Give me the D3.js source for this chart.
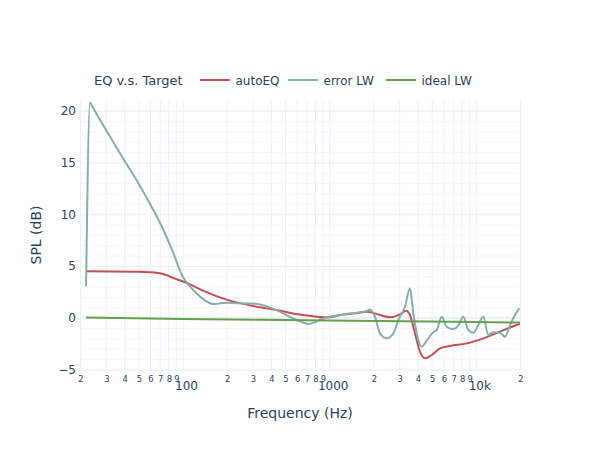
<!DOCTYPE html>
<html>
<head>
<meta charset="utf-8">
<script src="https://cdn.jsdelivr.net/npm/d3@7"></script>
<style>
  body { margin: 0; background: #fff; }
</style>
</head>
<body>
<div id="chart"></div>
<script>
// values (frequency in Hz, level in dB)
var autoFreq = [22, 51, 60, 70, 78, 86, 107, 139, 200, 304, 439, 632, 822, 1000, 1186, 1500, 1802, 2000, 2220, 2598, 3040, 3340, 3556, 3846, 4160, 4500, 5000, 5696, 6664, 8664, 11240, 14612, 18972, 20000];
var autoDb   = [4.5, 4.45, 4.4, 4.3, 4.1, 3.85, 3.35, 2.6, 1.75, 1.13, 0.74, 0.3, 0.1, 0.05, 0.26, 0.42, 0.58, 0.45, 0.26, 0.04, 0.33, 0.68, 0.26, -1.51, -3.28, -3.92, -3.6, -2.96, -2.73, -2.48, -1.99, -1.35, -0.71, -0.6];

var errorFreq = [22, 23.4, 24.1, 32, 40.5, 50, 60, 74, 86, 100, 118, 132, 162, 180, 200, 234, 300, 439, 570, 632, 720, 800, 880, 1060, 1386, 1800, 1898, 2052, 2220, 2466, 2736, 2960, 3286, 3556, 3746, 4052, 4272, 4624, 5132, 5408, 5852, 6328, 7020, 7592, 8210, 8880, 9610, 10392, 11240, 12160, 13154, 14612, 15804, 17092, 18486, 19780];
var errorDb   = [3.05, 20.8, 20.48, 17.5, 15.1, 13.0, 11.0, 8.5, 6.35, 4.0, 2.7, 2.03, 1.32, 1.39, 1.45, 1.39, 1.38, 0.74, -0.1, -0.35, -0.6, -0.45, -0.15, 0.15, 0.4, 0.65, 0.8, 0.1, -1.51, -1.99, -1.51, -0.22, 1.06, 2.84, 0.42, -2.15, -2.8, -2.2, -1.4, -1.19, 0.1, -0.87, -1.1, -0.75, 0.1, -1.19, -1.45, -0.71, 0.1, -1.67, -1.4, -1.45, -1.84, -0.71, 0.26, 0.91];

var idealFreq = [22, 100, 1000, 10000, 20000];
var idealDb   = [0.02, -0.12, -0.27, -0.42, -0.47];

var seriesNames = ["autoEQ", "error LW", "ideal LW"];
var seriesColors = ["#c44e52", "#86aead", "#65a04a"];
var legendTitle = "EQ v.s. Target";

var xTicks = [20, 30, 40, 50, 60, 70, 80, 90, 100, 200, 300, 400, 500, 600, 700, 800, 900,
              1000, 2000, 3000, 4000, 5000, 6000, 7000, 8000, 9000, 10000, 20000];
var xDecades = [100, 1000, 10000];
var xDecadeLabels = ["100", "1000", "10k"];
var yTicks = [-5, 0, 5, 10, 15, 20];

var width = 600,
    height = 450,
    margin = {top: 100, right: 80, bottom: 80, left: 80};
var font = '"DejaVu Sans", Verdana, sans-serif';
var textColor = "#2a3f5f";

var svg = d3.select("#chart").append("svg")
    .attr("width", width)
    .attr("height", height)
    .style("font-family", font);

var x = d3.scaleLog()
    .domain([20, 20000])
    .range([margin.left, width - margin.right]);

var y = d3.scaleLinear()
    .domain([-5.05, 21.03])
    .range([height - margin.bottom, margin.top]);

// minor y grid every 1 dB
svg.append("g")
    .attr("transform", "translate(" + margin.left + ",0)")
    .call(d3.axisLeft(y).tickValues(d3.range(-5, 21)).tickSize(-(width - margin.left - margin.right)).tickFormat(""))
    .call(function(g) {
      g.select(".domain").remove();
      g.selectAll("line").attr("stroke", "#f3f6fb");
    });

// x grid
svg.append("g")
    .attr("transform", "translate(0," + margin.top + ")")
    .call(d3.axisBottom(x).tickValues(xTicks).tickSize(height - margin.top - margin.bottom).tickFormat(""))
    .call(function(g) {
      g.select(".domain").remove();
      g.selectAll("line").attr("stroke", "#ebf0f8");
    });

// major y grid + labels
svg.append("g")
    .attr("transform", "translate(" + margin.left + ",0)")
    .call(d3.axisLeft(y).tickValues(yTicks).tickSize(-(width - margin.left - margin.right)).tickPadding(4))
    .call(function(g) {
      g.select(".domain").remove();
      g.selectAll("line").attr("stroke", "#ebf0f8");
      g.selectAll("text").attr("fill", textColor).style("font-size", "12px").style("font-family", font);
    });

// zero line
svg.append("line")
    .attr("x1", margin.left).attr("x2", width - margin.right)
    .attr("y1", y(0)).attr("y2", y(0))
    .attr("stroke", "#ebf0f8")
    .attr("stroke-width", 2);

// minor x labels (leading digit)
svg.append("g")
    .attr("transform", "translate(0.5," + (height - margin.bottom) + ")")
    .call(d3.axisBottom(x)
      .tickValues(xTicks.filter(function(d) { return xDecades.indexOf(d) < 0; }))
      .tickSize(0).tickPadding(6)
      .tickFormat(function(d) { return String(d).charAt(0); }))
    .call(function(g) {
      g.select(".domain").remove();
      g.selectAll("text").attr("fill", textColor).style("font-size", "8.4px").style("font-family", font);
    });

// decade labels
svg.append("g")
    .attr("transform", "translate(3.5," + (height - margin.bottom) + ")")
    .call(d3.axisBottom(x)
      .tickValues(xDecades)
      .tickSize(0).tickPadding(11)
      .tickFormat(function(d, i) { return xDecadeLabels[i]; }))
    .call(function(g) {
      g.select(".domain").remove();
      g.selectAll("text").attr("fill", textColor).style("font-size", "12px").style("font-family", font);
    });

// axis titles
svg.append("text")
    .attr("x", (margin.left + width - margin.right) / 2)
    .attr("y", 418)
    .attr("text-anchor", "middle")
    .attr("fill", textColor)
    .style("font-size", "14px")
    .text("Frequency (Hz)");

svg.append("text")
    .attr("transform", "translate(41," + ((margin.top + height - margin.bottom) / 2) + ")rotate(-90)")
    .attr("text-anchor", "middle")
    .attr("fill", textColor)
    .style("font-size", "14px")
    .text("SPL (dB)");

// lines
svg.append("clipPath").attr("id", "plot-clip")
  .append("rect")
    .attr("x", margin.left).attr("y", margin.top)
    .attr("width", width - margin.left - margin.right)
    .attr("height", height - margin.top - margin.bottom);

var line = d3.line()
    .x(function(d) { return x(d[0]); })
    .y(function(d) { return y(d[1]); })
    .curve(d3.curveMonotoneX);

var series = [
  d3.zip(autoFreq, autoDb),
  d3.zip(errorFreq, errorDb),
  d3.zip(idealFreq, idealDb)
];

svg.append("g")
    .attr("clip-path", "url(#plot-clip)")
  .selectAll("path")
    .data(series)
    .enter().append("path")
    .attr("fill", "none")
    .attr("stroke", function(d, i) { return seriesColors[i]; })
    .attr("stroke-width", 2)
    .attr("stroke-linejoin", "round")
    .attr("d", line);

// legend
var legend = svg.append("g").style("font-size", "12px");

legend.append("text")
    .attr("x", 94)
    .attr("y", 84.5)
    .attr("fill", textColor)
    .style("font-size", "13px")
    .text(legendTitle);

var legendX = [200, 288, 386];
var item = legend.selectAll("g.item")
    .data(seriesNames)
    .enter().append("g")
    .attr("class", "item")
    .attr("transform", function(d, i) { return "translate(" + legendX[i] + ",80)"; });

item.append("line")
    .attr("x1", 0).attr("x2", 30)
    .attr("stroke", function(d, i) { return seriesColors[i]; })
    .attr("stroke-width", 2);

item.append("text")
    .attr("x", 35.5)
    .attr("y", 4.5)
    .attr("fill", textColor)
    .text(function(d) { return d; });
</script>
</body>
</html>
